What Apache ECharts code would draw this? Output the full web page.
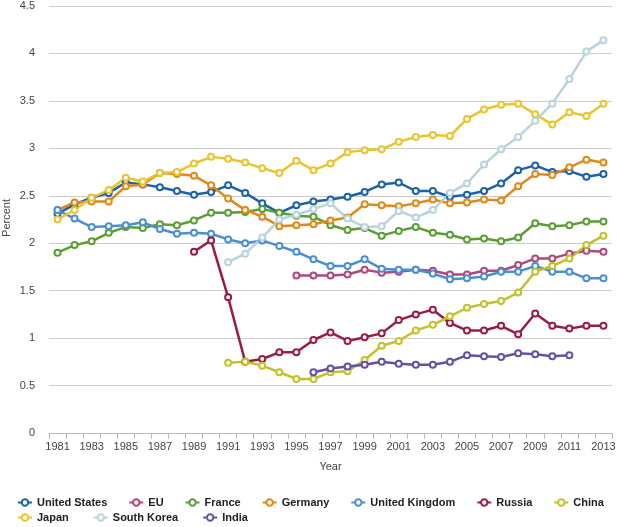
<!DOCTYPE html>
<html>
<head>
<meta charset="utf-8">
<script src="https://cdn.jsdelivr.net/npm/echarts@6/dist/echarts.min.js"></script>
<style>
html,body{margin:0;padding:0;background:#fff;}
#c{width:618px;height:527px;}
</style>
</head>
<body>
<div id="c"></div>
<script>
var years = [];
for (var y = 1981; y <= 2013; y++) years.push(String(y));

var unitedStates = [2.31,2.41,2.48,2.53,2.64,2.62,2.59,2.55,2.51,2.54,2.61,2.53,2.42,2.32,2.40,2.44,2.46,2.49,2.54,2.62,2.64,2.55,2.55,2.49,2.51,2.55,2.63,2.77,2.82,2.75,2.76,2.70,2.73];
var eu = [null,null,null,null,null,null,null,null,null,null,null,null,null,null,1.66,1.66,1.66,1.67,1.72,1.69,1.70,1.72,1.71,1.67,1.67,1.71,1.71,1.77,1.84,1.84,1.89,1.92,1.91];
var france = [1.90,1.98,2.02,2.11,2.17,2.16,2.20,2.19,2.24,2.32,2.32,2.33,2.36,2.32,2.29,2.28,2.19,2.14,2.16,2.08,2.13,2.17,2.11,2.09,2.04,2.05,2.02,2.06,2.21,2.18,2.19,2.23,2.23];
var germany = [2.35,2.43,2.44,2.44,2.60,2.62,2.74,2.73,2.71,2.61,2.47,2.35,2.28,2.18,2.19,2.20,2.24,2.27,2.41,2.40,2.39,2.42,2.46,2.42,2.43,2.46,2.45,2.60,2.73,2.72,2.80,2.88,2.85];
var unitedKingdom = [2.35,2.26,2.17,2.18,2.19,2.22,2.15,2.10,2.11,2.10,2.04,2.00,2.03,1.97,1.91,1.83,1.76,1.76,1.83,1.73,1.72,1.72,1.68,1.62,1.63,1.65,1.70,1.70,1.76,1.70,1.70,1.63,1.63];
var russia = [null,null,null,null,null,null,null,null,1.91,2.03,1.43,0.75,0.78,0.85,0.85,0.98,1.06,0.97,1.01,1.05,1.19,1.25,1.30,1.16,1.08,1.08,1.13,1.04,1.26,1.13,1.10,1.13,1.13];
var china = [null,null,null,null,null,null,null,null,null,null,0.74,0.75,0.71,0.64,0.57,0.57,0.64,0.65,0.77,0.92,0.97,1.08,1.14,1.23,1.32,1.36,1.39,1.48,1.70,1.76,1.84,1.98,2.08];
var japan = [2.25,2.35,2.48,2.56,2.69,2.65,2.74,2.75,2.84,2.91,2.89,2.85,2.79,2.74,2.87,2.77,2.84,2.96,2.98,2.99,3.07,3.12,3.14,3.13,3.31,3.41,3.46,3.47,3.36,3.25,3.38,3.34,3.47];
var southKorea = [null,null,null,null,null,null,null,null,null,null,1.80,1.89,2.06,2.25,2.30,2.36,2.42,2.26,2.17,2.18,2.34,2.27,2.35,2.53,2.63,2.83,2.99,3.12,3.29,3.47,3.73,4.02,4.14];
var india = [null,null,null,null,null,null,null,null,null,null,null,null,null,null,null,0.64,0.68,0.70,0.72,0.75,0.73,0.72,0.72,0.75,0.82,0.81,0.80,0.84,0.83,0.81,0.82,null,null];

var names = ['United States','EU','France','Germany','United Kingdom','Russia','China','Japan','South Korea','India'];
var datas = [unitedStates, eu, france, germany, unitedKingdom, russia, china, japan, southKorea, india];
var colors = ['#1b63a9','#b3477c','#5c9e34','#e0891a','#4a8fd2','#9a1c45','#c3c12a','#e8c52e','#b9d3dd','#6650a6'];

var font = '"Liberation Sans", Arial, sans-serif';

var series = names.map(function(n, i){
  return {
    name: n,
    type: 'line',
    data: datas[i],
    symbol: 'emptyCircle',
    symbolSize: 6,
    showSymbol: true,
    color: colors[i],
    itemStyle: {color: colors[i], borderWidth: 2},
    lineStyle: {color: colors[i], width: 2.5},
    connectNulls: false
  };
});

var legendText = {fontFamily: font, fontSize: 11, fontWeight: 'bold', color: '#222'};

var chart = echarts.init(document.getElementById('c'));
chart.setOption({
  animation: false,
  backgroundColor: '#fff',
  textStyle: {fontFamily: font},
  grid: {left: 49, right: 6, top: 6, bottom: 94, containLabel: false, outerBoundsMode: 'none'},
  graphic: [{
    type: 'text',
    x: 7, y: 218,
    rotation: Math.PI / 2,
    style: {text: 'Percent', fontFamily: font, fontSize: 11, fill: '#444', align: 'center', verticalAlign: 'middle'}
  }],
  legend: [{
    data: names.slice(0, 7),
    left: 17, top: 497, width: 601, padding: 0,
    itemWidth: 14, itemHeight: 8, itemGap: 21,
    textStyle: legendText
  },{
    data: names.slice(7),
    left: 17, top: 512, width: 601, padding: 0,
    itemWidth: 14, itemHeight: 8, itemGap: 24,
    textStyle: legendText
  }],
  xAxis: {
    type: 'category',
    data: years,
    boundaryGap: true,
    name: 'Year',
    nameLocation: 'middle',
    nameGap: 28,
    nameTextStyle: {fontFamily: font, fontSize: 11, color: '#444'},
    axisLine: {lineStyle: {color: '#bbb'}},
    axisTick: {show: true, interval: 0, length: 6, lineStyle: {color: '#bbb'}},
    axisLabel: {interval: 1, fontFamily: font, fontSize: 11, color: '#444', margin: 8},
    splitLine: {show: false}
  },
  yAxis: {
    type: 'value',
    min: 0, max: 4.5, interval: 0.5,
    axisLine: {show: false},
    axisTick: {show: false},
    axisLabel: {fontFamily: font, fontSize: 11, color: '#444', margin: 14},
    splitLine: {lineStyle: {color: '#ccc', width: 1}}
  },
  series: series
});
</script>
</body>
</html>
